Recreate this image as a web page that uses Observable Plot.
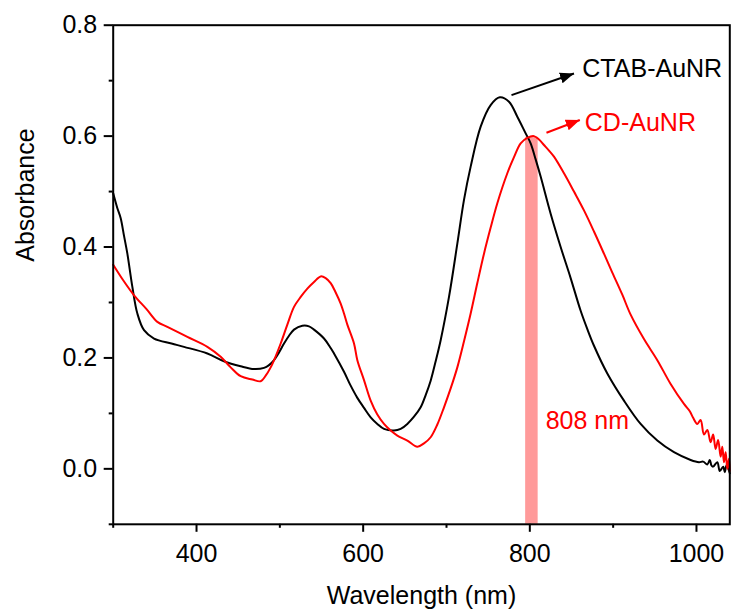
<!DOCTYPE html>
<html>
<head>
<meta charset="utf-8">
<script src="https://cdn.jsdelivr.net/npm/d3@7"></script>
<script src="https://cdn.jsdelivr.net/npm/@observablehq/plot@0.6"></script>
<style>
  html, body { margin: 0; padding: 0; background: #fff; }
  #chart { width: 732px; height: 610px; }
</style>
</head>
<body>
<div id="chart"></div>
<script>
// ---- data ----
const ctabWl  = [300, 305, 309, 313, 317, 323, 329, 337, 349, 370, 385, 413, 433, 453, 469, 481, 487, 493, 499, 505, 511, 517, 527, 535, 541, 553, 561, 565, 577, 585, 593, 601, 609, 617, 625, 637, 645, 653, 661, 669, 675, 681, 687, 693, 703, 713, 721, 729, 741, 753, 764, 775, 785, 795, 801, 807, 813, 825, 837, 849, 861, 869, 877, 893, 913, 933, 953, 973, 993, 1003, 1008, 1013, 1016, 1018, 1020, 1025, 1028, 1032, 1034, 1036, 1040];
const ctabAbs = [0.497, 0.47, 0.452, 0.42, 0.388, 0.328, 0.28, 0.25, 0.235, 0.226, 0.22, 0.208, 0.194, 0.185, 0.180, 0.182, 0.187, 0.196, 0.21, 0.226, 0.24, 0.251, 0.258, 0.257, 0.251, 0.235, 0.218, 0.208, 0.175, 0.15, 0.128, 0.11, 0.093, 0.081, 0.072, 0.069, 0.072, 0.081, 0.094, 0.111, 0.133, 0.159, 0.194, 0.232, 0.31, 0.406, 0.485, 0.545, 0.617, 0.656, 0.670, 0.662, 0.635, 0.605, 0.587, 0.558, 0.527, 0.46, 0.4, 0.344, 0.285, 0.252, 0.222, 0.172, 0.123, 0.081, 0.051, 0.030, 0.016, 0.012, 0.013, 0.008, 0.016, 0.006, 0.004, 0.012, -0.004, 0.004, -0.006, 0.006, -0.008];

const cdWl  = [300, 312, 325, 340, 353, 365, 389, 413, 429, 441, 453, 467, 477, 483, 489, 495, 501, 509, 517, 525, 533, 541, 549, 555, 561, 567, 573, 577, 581, 589, 593, 601, 609, 617, 625, 633, 641, 653, 665, 673, 681, 689, 697, 705, 713, 721, 729, 737, 745, 753, 761, 773, 781, 789, 797, 805, 811, 817, 823, 829, 841, 853, 865, 877, 889, 899, 911, 921, 937, 953, 969, 985, 992, 996, 1001, 1005, 1009, 1013, 1017, 1020, 1023, 1026, 1029, 1031, 1033, 1035, 1037, 1039, 1040];
const cdAbs = [0.368, 0.34, 0.313, 0.288, 0.265, 0.256, 0.238, 0.22, 0.202, 0.183, 0.167, 0.161, 0.158, 0.168, 0.183, 0.203, 0.226, 0.26, 0.292, 0.31, 0.325, 0.337, 0.347, 0.344, 0.335, 0.318, 0.298, 0.28, 0.26, 0.226, 0.196, 0.16, 0.123, 0.098, 0.081, 0.069, 0.06, 0.051, 0.04, 0.046, 0.057, 0.08, 0.111, 0.145, 0.183, 0.23, 0.28, 0.335, 0.388, 0.435, 0.479, 0.533, 0.562, 0.587, 0.597, 0.6, 0.594, 0.584, 0.574, 0.563, 0.533, 0.5, 0.466, 0.428, 0.388, 0.354, 0.314, 0.278, 0.234, 0.196, 0.153, 0.117, 0.104, 0.092, 0.081, 0.088, 0.062, 0.07, 0.048, 0.062, 0.036, 0.052, 0.022, 0.04, 0.012, 0.03, 0.0, 0.018, -0.004];

const xMajor = [400, 600, 800, 1000];
const xMinor = [300, 500, 700, 900];
const yMajor = [0, 0.2, 0.4, 0.6, 0.8];
const yMinor = [-0.1, 0.1, 0.3, 0.5, 0.7];

const bandX1 = [795];
const bandX2 = [810];
const bandTop = [0.598];
const bandLabel = ["808 nm"];
const bandLabelX = [819];
const bandLabelY = [0.087];

const seriesNames = ["CTAB-AuNR", "CD-AuNR"];
const seriesColors = ["#000000", "#ff0000"];
const labelX = [863, 866];
const labelY = [0.7205, 0.6236];
const arrowX1 = [778, 820];
const arrowY1 = [0.674, 0.606];
const arrowX2 = [853, 860];
const arrowY2 = [0.713, 0.629];

const xTitle = "Wavelength (nm)";
const yTitle = "Absorbance";

// ---- tables ----
const ctab = ctabWl.map((w, i) => ({w, a: ctabAbs[i]}));
const cd = cdWl.map((w, i) => ({w, a: cdAbs[i]}));
const band = bandX1.map((x1, i) => ({x1, x2: bandX2[i], top: bandTop[i]}));
const labels = seriesNames.map((n, i) => ({n, x: labelX[i], y: labelY[i], c: seriesColors[i],
  x1: arrowX1[i], y1: arrowY1[i], x2: arrowX2[i], y2: arrowY2[i]}));

function filledArrow(color, context) {
  const doc = context.document;
  const m = doc.createElementNS("http://www.w3.org/2000/svg", "marker");
  m.setAttribute("viewBox", "-5 -5 10 10");
  m.setAttribute("markerUnits", "userSpaceOnUse");
  m.setAttribute("markerWidth", "14");
  m.setAttribute("markerHeight", "14");
  m.setAttribute("orient", "auto");
  m.setAttribute("refX", "5");
  m.setAttribute("refY", "0");
  const p = doc.createElementNS("http://www.w3.org/2000/svg", "path");
  p.setAttribute("d", "M-5,-4L5,0L-5,4Z");
  p.setAttribute("fill", color);
  p.setAttribute("stroke", "none");
  m.appendChild(p);
  return m;
}

const FS = 25;

function build(useCustomMarker) {
  const arrowMarks = useCustomMarker
    ? [Plot.link(labels, {x1: "x1", y1: "y1", x2: "x2", y2: "y2", stroke: "c", strokeWidth: 2, markerEnd: filledArrow})]
    : [Plot.arrow(labels, {x1: "x1", y1: "y1", x2: "x2", y2: "y2", stroke: "c", strokeWidth: 2, headLength: 12})];
  return Plot.plot({
    width: 732,
    height: 610,
    marginLeft: 112.7,
    marginRight: 2.7,
    marginTop: 24.7,
    marginBottom: 86.2,
    style: {fontFamily: "'Liberation Sans', Arial, sans-serif", background: "#fff", color: "#000"},
    x: {domain: [300, 1040]},
    y: {domain: [-0.1, 0.8]},
    color: {type: "identity"},
    marks: [
      Plot.rect(band, {x1: "x1", x2: "x2", y1: -0.1, y2: "top", fill: "#ff9a9a"}),
      Plot.line(ctab, {x: "w", y: "a", stroke: "#000", strokeWidth: 2, curve: "catmull-rom"}),
      Plot.line(cd, {x: "w", y: "a", stroke: "#ff0000", strokeWidth: 2, curve: "catmull-rom"}),
      Plot.frame({stroke: "#000", strokeWidth: 2}),
      Plot.axisX(xMajor, {tickSize: 8, tickPadding: 12, fontSize: FS, strokeWidth: 2, label: null, tickFormat: d => String(d)}),
      Plot.axisX(xMinor, {tickSize: 4, strokeWidth: 2, label: null, tickFormat: () => ""}),
      Plot.axisY(yMajor, {tickSize: 9, tickPadding: 7, fontSize: FS, strokeWidth: 2, label: null, tickFormat: d3.format(".1f")}),
      Plot.axisY(yMinor, {tickSize: 4, strokeWidth: 2, label: null, tickFormat: () => ""}),
      ...arrowMarks,
      Plot.text(labels, {x: "x", y: "y", text: "n", fill: "c", fontSize: FS, textAnchor: "start", lineAnchor: "middle"}),
      Plot.text(bandLabel, {x: bandLabelX, y: bandLabelY, text: d => d, fill: "#ff0000", fontSize: FS, textAnchor: "start", lineAnchor: "middle"}),
      Plot.text([xTitle], {text: d => d, frameAnchor: "bottom", dy: 71.3, fontSize: FS, lineAnchor: "middle"}),
      Plot.text([yTitle], {text: d => d, frameAnchor: "left", dx: -87.5, dy: -13, rotate: -90, fontSize: FS, lineAnchor: "middle"})
    ]
  });
}

let chart;
try { chart = build(true); } catch (e) { chart = build(false); }
document.getElementById("chart").appendChild(chart);
</script>
</body>
</html>
